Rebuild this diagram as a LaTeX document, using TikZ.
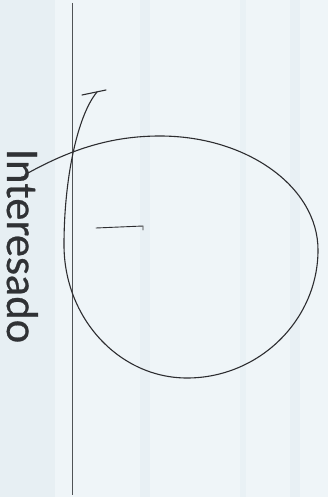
\documentclass[tikz,border=0pt]{standalone}
\usepackage{fontspec}
\setmainfont{Lato}
\newfontfamily\lblfont{Lato}[FakeBold=0.6]
\definecolor{bgc}{RGB}{239,245,248}
\definecolor{stripec}{RGB}{226,236,241}
\definecolor{inkc}{RGB}{45,45,48}
\definecolor{linec}{RGB}{80,83,86}
\definecolor{textc}{RGB}{48,50,53}
\tikzset{
  ink/.style={draw=inkc, line width=1.1pt, line cap=round, line join=round},
  axisline/.style={draw=linec, line width=0.8pt},
  labeltext/.style={text=textc, font=\lblfont\fontsize{42}{42}\selectfont, inner sep=0pt, rotate=-90, anchor=base}
}
\begin{document}
\begin{tikzpicture}[x=1pt,y=-1pt]
\useasboundingbox (0,0) rectangle (328,497);
\fill[bgc] (0,0) rectangle (328,497);
\fill[stripec, opacity=0.6] (0,0) rectangle (55,497);
\fill[stripec, opacity=0.5] (140,0) rectangle (150,497);
\fill[stripec, opacity=0.5] (290,0) rectangle (300,497);
\fill[stripec, opacity=0.4] (240,0) rectangle (246,497);
% vertical axis
\coordinate (axtop) at (72,3);
\coordinate (axbot) at (72,495);
\draw[axisline] (axtop) -- (axbot);
% label
\node[labeltext] (lbl) at (7,246) {Interesado};
% loop curve
\coordinate (c0) at (28,173);
\coordinate (ctop) at (160,136);
\coordinate (cright) at (318,250);
\coordinate (cbot) at (187,378);
\coordinate (cleft) at (64,245);
\coordinate (cend) at (97,92);
\draw[ink] (c0) .. controls (70,150) and (110,136) .. (ctop)
  .. controls (247,136) and (318,187) .. (cright)
  .. controls (318,320) and (259,378) .. (cbot)
  .. controls (119,378) and (64,318) .. (cleft)
  .. controls (64,180) and (77,116) .. (cend);
% arrow tick
\coordinate (tickA) at (82,95);
\coordinate (tickB) at (106,90);
\draw[ink] (tickA) -- (tickB);
% short mark
\coordinate (markA) at (96,228);
\coordinate (markB) at (143,226);
\draw[ink, line width=0.9pt] (markA) -- (markB) -- ++(0,4);
\end{tikzpicture}
\end{document}
